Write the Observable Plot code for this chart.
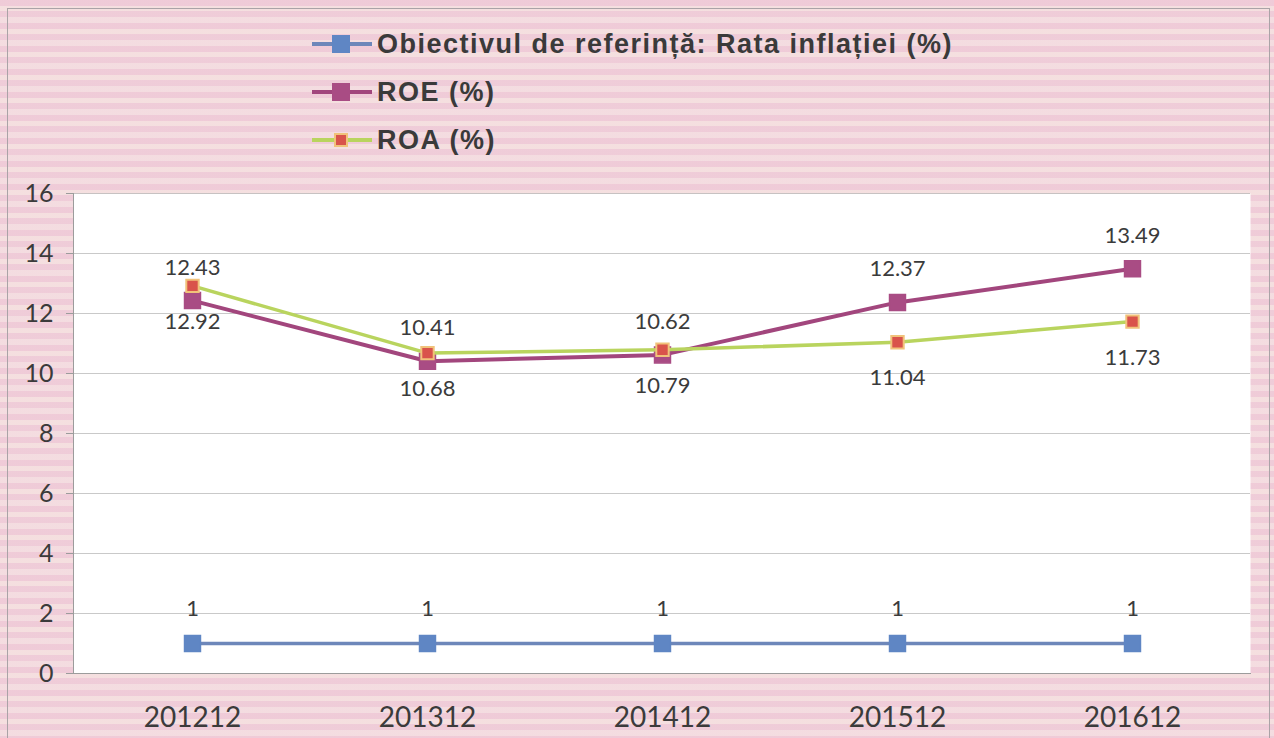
<!DOCTYPE html>
<html>
<head>
<meta charset="utf-8">
<script src="https://cdn.jsdelivr.net/npm/d3@7"></script>
<script src="https://cdn.jsdelivr.net/npm/@observablehq/plot@0.6"></script>
<style>
  html, body { margin: 0; padding: 0; }
  #wrap {
    position: relative; width: 1274px; height: 738px; overflow: hidden;
    background-color: #f2d6df;
    background-image:
      repeating-linear-gradient(180deg, rgba(236,190,207,0.45) 0px, rgba(236,190,207,0.45) 6px, rgba(248,234,224,0.45) 6px, rgba(248,234,224,0.45) 11px, rgba(234,186,204,0.35) 11px, rgba(234,186,204,0.35) 17px, rgba(246,228,226,0.45) 17px, rgba(246,228,226,0.45) 23px);
  }
  #border { position: absolute; left: 7px; top: 8px; width: 1261px; height: 740px; border: 1px solid #aaa3a7; pointer-events: none; }
  #legend { position: relative; height: 160px; font-family: "Liberation Sans", Arial, sans-serif; font-weight: bold; font-size: 27px; letter-spacing: 1.5px; color: #3a3a3a; }
  .row { position: absolute; left: 310px; height: 30px; display: flex; align-items: center; }
  .row svg { margin-right: 5px; }
  #chart svg { background: transparent !important; display: block; }
</style>
</head>
<body>
<div id="wrap">
  <div id="legend"></div>
  <div id="chart"></div>
  <div id="border"></div>
</div>
<script>
const years = ["201212", "201312", "201412", "201512", "201612"];
const inflation = [1, 1, 1, 1, 1];
const roe = [12.43, 10.41, 10.62, 12.37, 13.49];
const roa = [12.92, 10.68, 10.79, 11.04, 11.73];
const seriesNames = ["Obiectivul de referință: Rata inflației (%)", "ROE (%)", "ROA (%)"];
const yTicks = [0, 2, 4, 6, 8, 10, 12, 14, 16];

const colors = {
  inf: { line: "#6d87ba", fill: "#5f86c4", stroke: "#5f86c4" },
  roe: { line: "#a2467d", fill: "#a94c84", stroke: "#a94c84" },
  roa: { line: "#b9d45e", fill: "#d9534b", stroke: "#f1c27a" }
};
const styleList = [colors.inf, colors.roe, colors.roa];

// Legend
const legend = document.getElementById("legend");
const legendTops = [29, 77, 125];
seriesNames.forEach((name, i) => {
  const row = document.createElement("div");
  row.className = "row";
  row.style.top = legendTops[i] + "px";
  const c = styleList[i];
  const sq = i === 2 ? 12 : 16;
  row.innerHTML = `<svg width="62" height="30"><line x1="2" x2="62" y1="15" y2="15" stroke="${c.line}" stroke-width="4"/><rect x="${31 - sq/2}" y="${15 - sq/2}" width="${sq}" height="${sq}" fill="${c.fill}" stroke="${c.stroke}" stroke-width="2"/></svg><span>${name}</span>`;
  legend.appendChild(row);
});

const infData = years.map((y, i) => ({ year: y, v: inflation[i] }));
const roeData = years.map((y, i) => ({ year: y, v: roe[i] }));
const roaData = years.map((y, i) => ({ year: y, v: roa[i] }));

const chart = Plot.plot({
  width: 1274,
  height: 578,
  marginLeft: 73,
  marginRight: 24,
  marginTop: 33,
  marginBottom: 65,
  style: { fontFamily: "Lato, 'Open Sans', sans-serif", background: "transparent", color: "#3b3b3b" },
  x: { type: "point", domain: years, padding: 0.5, label: null },
  y: { domain: [0, 16], label: null },
  marks: [
    Plot.frame({ fill: "white", stroke: null }),
    Plot.gridY(yTicks, { stroke: "#9c9c9c", strokeOpacity: 0.55 }),
    Plot.frame({ anchor: "left", stroke: "#9c9c9c" }),
    Plot.frame({ anchor: "bottom", stroke: "#9c9c9c" }),
    Plot.axisY({ ticks: yTicks, tickSize: 7, tickPadding: 13, fontSize: 25, stroke: "#9c9c9c", fill: "#3b3b3b", label: null }),
    Plot.axisX({ tickSize: 0, tickPadding: 34, fontSize: 28, fill: "#3b3b3b", label: null }),
    Plot.line(infData, { x: "year", y: "v", stroke: colors.inf.line, strokeWidth: 3.5 }),
    Plot.dot(infData, { x: "year", y: "v", symbol: "square", r: 9, fill: colors.inf.fill, stroke: colors.inf.stroke }),
    Plot.line(roeData, { x: "year", y: "v", stroke: colors.roe.line, strokeWidth: 4 }),
    Plot.dot(roeData, { x: "year", y: "v", symbol: "square", r: 9, fill: colors.roe.fill, stroke: colors.roe.stroke }),
    Plot.line(roaData, { x: "year", y: "v", stroke: colors.roa.line, strokeWidth: 3.5 }),
    Plot.dot(roaData, { x: "year", y: "v", symbol: "square", r: 7, fill: colors.roa.fill, stroke: colors.roa.stroke, strokeWidth: 2 }),
    Plot.text(infData, { x: "year", y: "v", text: d => String(d.v), dy: -35, fontSize: 22, fill: "#3b3b3b" }),
    Plot.text(roeData, { x: "year", y: "v", text: d => d.v.toFixed(2), dy: -33, fontSize: 22, fill: "#3b3b3b" }),
    Plot.text(roaData, { x: "year", y: "v", text: d => d.v.toFixed(2), dy: 36, fontSize: 22, fill: "#3b3b3b" })
  ]
});
document.getElementById("chart").appendChild(chart);
</script>
</body>
</html>
